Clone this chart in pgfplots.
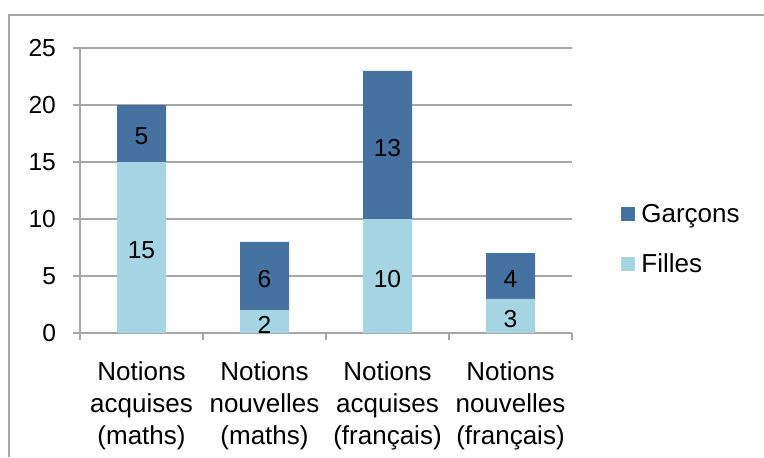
\documentclass[border=0pt]{standalone}
\usepackage{pgfplots}
\usepackage{pgfplotstable}
\pgfplotsset{compat=1.18}
\usepackage{fontspec}
\setmainfont{Liberation Sans}

\definecolor{filles}{HTML}{A5D5E2}
\definecolor{garcons}{HTML}{4672A2}
\definecolor{gridgray}{HTML}{A6A6A6}

\pgfplotstableread{
x f g
0 15 5
1 2 6
2 10 13
3 3 4
}\notions

\begin{document}
\begin{tikzpicture}
\useasboundingbox (0,0) rectangle (382pt,228.5pt);
\draw[line width=0.8pt, color=gridgray] (4.5pt,0) -- (4.5pt,221pt) -- (382pt,221pt);
\begin{axis}[
    at={(40pt,62pt)}, anchor=south west,
    width=246pt, height=142.5pt, scale only axis,
    xmin=-0.5, xmax=3.5, ymin=0, ymax=25,
    ybar stacked, bar width=24.5pt,
    axis lines*=left,
    axis line style={gridgray, line width=0.6pt},
    ymajorgrids, grid style={gridgray, line width=0.6pt},
    ytick={0,5,...,25},
    tick align=outside, major tick length=3.5pt,
    tick style={gridgray, line width=0.6pt},
    xtick={-0.5,0.5,1.5,2.5,3.5}, xticklabels={},
    extra x ticks={0,1,2,3},
    extra x tick labels={Notions\\acquises\\(maths),Notions\\nouvelles\\(maths),Notions\\acquises\\(français),Notions\\nouvelles\\(français)},
    extra x tick style={major tick length=0pt, grid=none},
    xticklabel style={align=center, font=\fontsize{13}{16}\selectfont, yshift=-11pt},
    yticklabel style={font=\fontsize{12.3}{14}\selectfont, xshift=-5pt},
    /pgf/number format/assume math mode=true,
    point meta=explicit,
    nodes near coords,
    nodes near coords style={font=\fontsize{12.3}{14}\selectfont, text=black, anchor=center, yshift=-1.5pt},
    legend style={at={(axis description cs:1.0996,0.326)}, anchor=west, draw=none, fill=none,
        font=\fontsize{13}{16}\selectfont, row sep=11pt, column sep=1.5pt, inner sep=0pt,
        nodes={inner sep=1.5pt, text height=9pt, text depth=2pt}},
    legend cell align=left,
    reverse legend,
    legend image code/.code={\fill[#1] (0pt,-3pt) rectangle (7pt,4pt);},
]
\addplot[fill=filles, draw=none]
    table[x=x, y=f, meta=f] {\notions};
\addplot[fill=garcons, draw=none]
    table[x=x, y=g, meta=g] {\notions};
\legend{Filles,Garçons}
\end{axis}
\end{tikzpicture}
\end{document}
